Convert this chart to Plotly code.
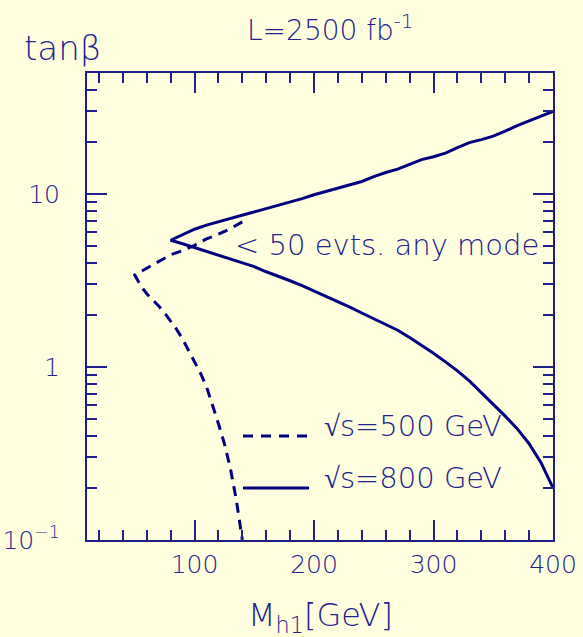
import plotly.graph_objects as go

# ---------------- data ----------------
# sqrt(s) = 800 GeV contour: upper and lower branches meeting at M=80
mh_800 = [80, 90, 100, 110, 120, 130, 140, 150, 160, 170, 180, 190, 200, 210, 220,
          230, 240, 250, 260, 270, 280, 290, 300, 310, 320, 330, 340, 350, 360,
          370, 380, 390, 400]
tb_800_upper = [5.4, 5.8, 6.25, 6.6, 6.9, 7.2, 7.5, 7.85, 8.2, 8.6, 9.0, 9.4, 9.9,
                10.3, 10.8, 11.3, 11.8, 12.6, 13.3, 13.9, 14.8, 15.8, 16.4, 17.2,
                18.5, 19.8, 20.6, 21.6, 23.1, 24.8, 26.6, 28.2, 30.0]
tb_800_lower = [5.4, 5.15, 4.9, 4.65, 4.45, 4.2, 4.0, 3.8, 3.55, 3.35, 3.15, 2.95,
                2.75, 2.57, 2.4, 2.22, 2.05, 1.9, 1.77, 1.63, 1.48, 1.34, 1.2, 1.07,
                0.95, 0.83, 0.71, 0.61, 0.52, 0.44, 0.36, 0.28, 0.2]

# sqrt(s) = 500 GeV contour: branches meeting at M=50
mh_500_upper = [50, 60, 70, 80, 90, 100, 110, 120, 130, 140]
tb_500_upper = [3.4, 3.72, 4.05, 4.45, 4.7, 5.05, 5.5, 5.85, 6.3, 6.9]
mh_500_lower = [50, 55, 60, 65, 70, 75, 80, 85, 90, 95, 100, 105, 110, 115, 120,
                125, 130, 135, 140]
tb_500_lower = [3.4, 2.95, 2.65, 2.45, 2.25, 2.05, 1.85, 1.65, 1.45, 1.25, 1.08,
                0.92, 0.77, 0.61, 0.47, 0.36, 0.26, 0.17, 0.1]

x_ticks = [100, 200, 300, 400]
y_ticks = [0.1, 1, 10]
y_ticktext = ["10<sup>\u22121</sup>", "1", "10"]

series_labels = ["\u221as=500 GeV", "\u221as=800 GeV"]
region_label = "< 50 evts. any mode"
title_text = "L=2500 fb<sup>-1</sup>"
x_title = "M<sub>h1</sub>[GeV]"
y_title = "tan\u03b2"

# ---------------- style ----------------
BG = "#ffffe0"
LINE = "#000080"
AX = "#20208a"
TXT = "#22228c"
FONT = "DejaVu Sans"
WT = 200
W, H = 583, 637
ML, MR, MT, MB = 87, 30, 73, 97
PW, PH = W - ML - MR, H - MT - MB


def px(xp):
    return (xp - ML) / PW


def py(yp):
    return (H - MB - yp) / PH


fig = go.Figure()

# 800 GeV: upper branch reversed then lower branch (one continuous curve)
fig.add_trace(go.Scatter(
    x=mh_800[::-1] + mh_800[1:],
    y=tb_800_upper[::-1] + tb_800_lower[1:],
    mode="lines", line=dict(color=LINE, width=3), showlegend=False,
    name=series_labels[1]))

# 500 GeV dashed
fig.add_trace(go.Scatter(
    x=mh_500_upper[::-1] + mh_500_lower[1:],
    y=tb_500_upper[::-1] + tb_500_lower[1:],
    mode="lines", line=dict(color=LINE, width=3, dash="10px,7px"),
    showlegend=False, name=series_labels[0]))

minor_y = [m * 10 ** e for e in (-1, 0, 1) for m in range(2, 10) if m * 10 ** e <= 50]

tick_font = dict(family=FONT, size=25, color=TXT, weight=WT)

fig.update_xaxes(
    type="linear", range=[10, 400], automargin=False,
    tickmode="array", tickvals=x_ticks, ticktext=[str(v) for v in x_ticks],
    ticks="inside", ticklen=20, tickwidth=2, tickcolor=AX,
    minor=dict(dtick=20, tick0=0, ticks="inside", ticklen=10, tickwidth=2,
               tickcolor=AX, showgrid=False),
    showline=True, linecolor=AX, linewidth=2, mirror="ticks",
    showgrid=False, zeroline=False,
    tickfont=tick_font,
    ticklabelstandoff=1,
)
fig.update_yaxes(
    type="log", range=[-1, 1.69897], automargin=False,
    tickmode="array", tickvals=y_ticks, ticktext=y_ticktext,
    ticks="inside", ticklen=20, tickwidth=2, tickcolor=AX,
    minor=dict(tickmode="array", tickvals=minor_y, ticks="inside", ticklen=10,
               tickwidth=2, tickcolor=AX, showgrid=False),
    showline=True, linecolor=AX, linewidth=2, mirror="ticks",
    showgrid=False, zeroline=False,
    tickfont=tick_font,
    ticklabelstandoff=20,
)

ann_font = dict(family=FONT, color=TXT, weight=WT)
annotations = [
    dict(text=y_title, x=px(22), y=py(48), xanchor="left", yanchor="middle",
         font=dict(size=34, **ann_font)),
    dict(text=title_text, x=px(330), y=py(29), xanchor="center", yanchor="middle",
         font=dict(size=28, **ann_font)),
    dict(text=region_label, x=px(233), y=py(245), xanchor="left", yanchor="middle",
         font=dict(size=29, **ann_font)),
    dict(text=series_labels[0], x=px(322), y=py(426), xanchor="left", yanchor="middle",
         font=dict(size=29, **ann_font)),
    dict(text=series_labels[1], x=px(322), y=py(478), xanchor="left", yanchor="middle",
         font=dict(size=29, **ann_font)),
    dict(text=x_title, x=px(320), y=py(617), xanchor="center",
         yanchor="middle", font=dict(size=32, **ann_font)),
]
for a in annotations:
    a.update(xref="paper", yref="paper", showarrow=False)

shapes = [
    dict(type="line", xref="paper", yref="paper", x0=px(243), x1=px(309),
         y0=py(436), y1=py(436), line=dict(color=LINE, width=3, dash="10px,8px")),
    dict(type="line", xref="paper", yref="paper", x0=px(243), x1=px(309),
         y0=py(488), y1=py(488), line=dict(color=LINE, width=3)),
]

fig.update_layout(
    width=W, height=H, autosize=False,
    margin=dict(l=ML, r=MR, t=MT, b=MB, pad=0),
    paper_bgcolor=BG, plot_bgcolor=BG,
    annotations=annotations, shapes=shapes, showlegend=False,
)

fig.write_html("out.html", config={"displayModeBar": False})
